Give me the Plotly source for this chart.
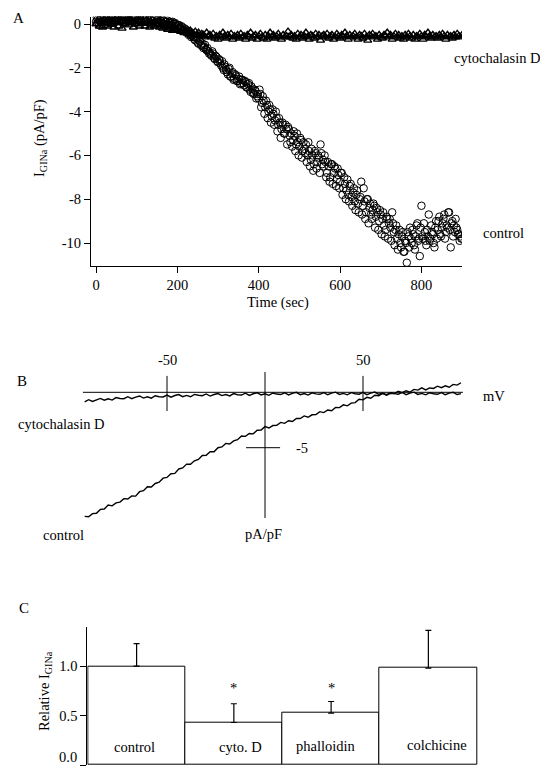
import plotly.graph_objects as go

# ---------------- DATA ----------------
# Panel A: I_GINa (pA/pF) vs time (sec)
time_sec = list(range(0, 901, 4))        # first sweep set
time_sec_b = list(range(2, 900, 4))      # interleaved samples (control only)
control_A = [
    0.1, 0.2, -0.05, 0.25, 0.15, 0.3, 0.0, 0.2, 0.35, 0.1,
    0.25, 0.05, 0.3, 0.4, 0.15, 0.2, 0.35, 0.1, 0.3, 0.2,
    0.4, 0.15, 0.25, 0.3, 0.05, 0.35, 0.2, 0.4, 0.1, 0.25,
    0.3, 0.1, 0.2, 0.25, 0.0, 0.15, 0.3, 0.1, 0.2, 0.05,
    0.15, 0.2, 0.0, 0.1, 0.15, -0.05, 0.05, 0.1, -0.1, 0.0,
    -0.1, -0.05, -0.2, -0.15, -0.3, -0.25, -0.35, -0.5, -0.4, -0.55,
    -0.6, -0.75, -0.65, -0.9, -0.8, -1.0, -1.1, -0.95, -1.2, -1.25,
    -1.3, -1.45, -1.35, -1.6, -1.5, -1.75, -1.65, -1.9, -2.0, -1.85,
    -2.1, -2.3, -2.0, -2.4, -2.2, -2.5, -2.35, -2.6, -2.4, -2.7,
    -2.55, -2.8, -2.65, -2.9, -2.7, -3.1, -2.95, -3.2, -3.05, -3.3,
    -3.4, -3.2, -3.6, -3.5, -3.8, -3.7, -4.0, -3.9, -4.2, -4.1,
    -4.4, -4.3, -4.6, -4.5, -4.8, -4.6, -5.0, -4.8, -4.7, -5.1,
    -5.0, -5.3, -5.1, -5.5, -5.4, -5.6, -5.3, -5.8, -5.7, -5.5,
    -6.0, -5.8, -6.2, -6.0, -6.4, -5.9, -6.3, -6.1, -5.5, -6.4,
    -6.5, -6.3, -6.8, -6.5, -7.0, -6.4, -6.8, -6.6, -7.1, -6.9,
    -7.2, -6.8, -7.5, -7.3, -7.6, -7.8, -7.4, -7.9, -7.7, -8.1,
    -7.8, -8.2, -8.0, -7.2, -8.3, -8.1, -8.6, -8.0, -8.4, -8.7,
    -8.5, -8.3, -8.8, -8.6, -9.0, -8.7, -8.9, -9.2, -9.4, -8.9,
    -9.1, -9.3, -8.6, -9.5, -9.4, -9.8, -9.6, -10.0, -9.7, -10.4,
    -9.9, -10.9, -9.7, -9.3, -10.0, -9.6, -10.3, -9.2, -9.9, -10.6,
    -8.3, -9.8, -9.5, -10.1, -9.7, -9.9, -9.2, -9.6, -10.2, -9.0,
    -9.4, -8.8, -9.7, -9.1, -8.7, -9.5, -9.3, -8.6, -10.2, -9.0,
    -9.2, -8.9, -9.4, -9.6, -9.7, -9.8,
]
control_A_b = [
    0.3, 0.05, 0.2, 0.1, 0.35, 0.15, 0.25, 0.05, 0.2, 0.3,
    0.1, 0.35, 0.2, 0.25, 0.4, 0.1, 0.25, 0.3, 0.15, 0.35,
    0.2, 0.3, 0.1, 0.35, 0.25, 0.15, 0.3, 0.2, 0.35, 0.1,
    0.2, 0.3, 0.05, 0.2, 0.15, 0.25, 0.05, 0.2, 0.1, 0.15,
    0.05, 0.15, 0.1, -0.05, 0.05, 0.1, -0.05, 0.0, 0.05, -0.1,
    -0.05, -0.15, -0.1, -0.25, -0.2, -0.4, -0.3, -0.45, -0.6, -0.5,
    -0.7, -0.6, -0.85, -0.75, -0.95, -0.9, -1.05, -1.15, -1.1, -1.35,
    -1.4, -1.25, -1.55, -1.45, -1.7, -1.6, -1.8, -1.7, -2.1, -1.95,
    -2.2, -2.05, -2.4, -2.25, -2.55, -2.3, -2.6, -2.5, -2.75, -2.55,
    -2.7, -2.6, -2.9, -2.75, -3.0, -2.85, -3.15, -3.0, -3.4, -3.2,
    -3.0, -3.8, -3.3, -4.1, -3.5, -4.3, -3.7, -4.5, -3.9, -4.6,
    -4.0, -4.9, -4.3, -5.2, -4.5, -5.0, -4.6, -5.5, -4.8, -5.4,
    -5.6, -4.9, -5.8, -5.0, -6.0, -5.2, -6.1, -5.4, -5.9, -6.3,
    -5.4, -6.5, -5.7, -6.7, -5.8, -6.6, -6.0, -6.8, -5.9, -6.2,
    -6.0, -7.0, -6.3, -7.2, -6.4, -7.3, -6.5, -7.4, -6.6, -7.5,
    -6.8, -7.8, -7.0, -8.0, -7.1, -8.1, -7.3, -8.3, -7.5, -8.5,
    -7.6, -8.6, -7.9, -8.7, -7.5, -8.9, -8.0, -9.1, -8.2, -8.9,
    -8.2, -9.3, -8.4, -9.4, -8.5, -9.6, -8.6, -9.7, -8.8, -9.8,
    -8.9, -9.9, -9.1, -10.1, -9.2, -10.3, -9.4, -10.2, -9.5, -10.4,
    -10.0, -9.5, -10.2, -9.8, -9.4, -10.1, -9.7, -9.1, -9.8, -9.3,
    -9.7, -9.1, -9.9, -9.4, -8.7, -9.8, -9.5, -10.0, -9.3, -9.8,
    -9.0, -9.6, -9.3, -8.9, -9.8, -9.2, -8.6, -9.4, -9.1, -9.7,
    -9.5, -9.3, -9.6, -9.9, -9.8,
]
cytoD_A = [
    0.0, 0.15, -0.1, 0.1, -0.15, 0.2, 0.05, -0.1, 0.15, 0.0,
    0.1, -0.15, 0.2, 0.05, -0.1, 0.1, -0.2, 0.15, 0.0, 0.1,
    -0.05, 0.2, 0.05, -0.15, 0.1, 0.0, 0.15, -0.1, 0.05, 0.1,
    -0.1, 0.05, 0.1, -0.15, 0.0, 0.05, -0.1, 0.0, -0.05, -0.15,
    -0.05, -0.2, -0.1, -0.15, -0.25, -0.1, -0.2, -0.3, -0.15, -0.25,
    -0.3, -0.2, -0.35, -0.25, -0.4, -0.3, -0.35, -0.45, -0.3, -0.4,
    -0.45, -0.35, -0.5, -0.4, -0.55, -0.45, -0.5, -0.6, -0.4, -0.55,
    -0.5, -0.6, -0.45, -0.65, -0.55, -0.7, -0.5, -0.6, -0.4, -0.55,
    -0.65, -0.5, -0.6, -0.45, -0.7, -0.55, -0.6, -0.5, -0.65, -0.45,
    -0.6, -0.55, -0.7, -0.5, -0.6, -0.4, -0.65, -0.55, -0.5, -0.7,
    -0.55, -0.45, -0.6, -0.65, -0.5, -0.7, -0.55, -0.4, -0.6, -0.5,
    -0.65, -0.55, -0.45, -0.6, -0.7, -0.5, -0.6, -0.55, -0.35, -0.6,
    -0.5, -0.65, -0.55, -0.7, -0.45, -0.6, -0.5, -0.65, -0.55, -0.4,
    -0.6, -0.7, -0.5, -0.55, -0.65, -0.45, -0.6, -0.5, -0.75, -0.55,
    -0.5, -0.6, -0.45, -0.65, -0.55, -0.5, -0.7, -0.6, -0.45, -0.55,
    -0.65, -0.5, -0.6, -0.4, -0.55, -0.7, -0.5, -0.6, -0.55, -0.45,
    -0.6, -0.7, -0.5, -0.55, -0.65, -0.45, -0.6, -0.75, -0.5, -0.55,
    -0.45, -0.6, -0.55, -0.7, -0.5, -0.6, -0.65, -0.5, -0.55, -0.4,
    -0.6, -0.5, -0.7, -0.55, -0.45, -0.6, -0.5, -0.65, -0.55, -0.7,
    -0.5, -0.6, -0.45, -0.55, -0.65, -0.5, -0.7, -0.55, -0.6, -0.45,
    -0.55, -0.7, -0.5, -0.6, -0.4, -0.55, -0.65, -0.5, -0.6, -0.55,
    -0.65, -0.5, -0.6, -0.45, -0.55, -0.7, -0.5, -0.6, -0.55, -0.65,
    -0.5, -0.6, -0.45, -0.55, -0.6, -0.5,
]
A_xticks = [0, 200, 400, 600, 800]
A_yticks = [0, -2, -4, -6, -8, -10]

# Panel B: I-V relation (pA/pF vs mV), every 2 mV
voltage_mV = list(range(-92, 101, 2))
control_B = [
    -11.2, -11.23, -10.95, -10.92, -10.57, -10.53, -10.18, -10.25, -9.98, -9.91,
    -9.6, -9.63, -9.35, -9.37, -8.97, -8.88, -8.53, -8.55, -8.23, -8.11,
    -7.75, -7.68, -7.35, -7.32, -6.92, -6.83, -6.48, -6.5, -6.18, -6.06,
    -5.7, -5.68, -5.37, -5.37, -5.0, -4.93, -4.61, -4.66, -4.38, -4.28,
    -3.95, -3.98, -3.72, -3.75, -3.42, -3.4, -3.1, -3.22, -3.0, -2.98,
    -2.72, -2.8, -2.57, -2.64, -2.35, -2.37, -2.13, -2.25, -2.03, -2.01,
    -1.75, -1.83, -1.6, -1.67, -1.37, -1.38, -1.13, -1.22, -0.98, -0.93,
    -0.63, -0.68, -0.45, -0.54, -0.27, -0.31, -0.1, -0.26, -0.09, -0.12,
    0.09, -0.04, 0.14, 0.02, 0.26, 0.2, 0.4, 0.22, 0.39, 0.35,
    0.55, 0.42, 0.59, 0.46, 0.71, 0.65, 0.86,
]
cytoD_B = [
    -0.86, -0.67, -0.83, -0.66, -0.55, -0.71, -0.58, -0.70, -0.48, -0.56,
    -0.58, -0.40, -0.58, -0.43, -0.33, -0.52, -0.40, -0.53, -0.31, -0.40,
    -0.42, -0.25, -0.44, -0.29, -0.20, -0.39, -0.28, -0.40, -0.19, -0.27,
    -0.31, -0.15, -0.34, -0.20, -0.11, -0.30, -0.20, -0.33, -0.12, -0.22,
    -0.25, -0.08, -0.28, -0.13, -0.04, -0.24, -0.13, -0.27, -0.06, -0.16,
    -0.20, -0.04, -0.24, -0.09, 0.00, -0.21, -0.11, -0.25, -0.05, -0.14,
    -0.18, -0.02, -0.22, -0.08, 0.01, -0.19, -0.10, -0.23, -0.03, -0.13,
    -0.17, 0.00, -0.21, -0.07, 0.02, -0.18, -0.09, -0.22, -0.03, -0.12,
    -0.17, -0.01, -0.21, -0.07, 0.01, -0.19, -0.10, -0.23, -0.04, -0.13,
    -0.18, -0.02, -0.22, -0.08, 0.00, -0.20, -0.12,
]
B_xticks = [-50, 0, 50]
B_ytick = -5

# Panel C: relative I_GINa
C_categories = ["control", "cyto. D", "phalloidin", "colchicine"]
C_values = [1.0, 0.43, 0.525, 0.98]
C_err_up = [0.228, 0.19, 0.118, 0.382]
C_signif = [False, True, True, False]
C_yticks = [0.0, 0.5, 1.0]

# ---------------- LAYOUT HELPERS ----------------
W, H = 540, 767
FONT = "Liberation Serif, Times New Roman, DejaVu Serif, serif"
FS = 14.5


def fx(p):
    return p / W


def fy(p):
    return 1 - p / H


def fmt(v):
    return str(v).replace("\u2212", "-")


fig = go.Figure()

# Panel A traces
fig.add_trace(go.Scatter(
    x=time_sec, y=cytoD_A, mode="markers", xaxis="x", yaxis="y",
    marker=dict(symbol="triangle-up-open", size=7, color="black", line=dict(width=1.4)),
    showlegend=False))
fig.add_trace(go.Scatter(
    x=time_sec + time_sec_b, y=control_A + control_A_b, mode="markers", xaxis="x", yaxis="y",
    marker=dict(symbol="circle-open", size=7.5, color="black", line=dict(width=1)),
    showlegend=False))

# Panel B traces
fig.add_trace(go.Scatter(x=voltage_mV, y=cytoD_B, mode="lines", xaxis="x2", yaxis="y2",
                         line=dict(color="black", width=1.4), showlegend=False))
fig.add_trace(go.Scatter(x=voltage_mV, y=control_B, mode="lines", xaxis="x2", yaxis="y2",
                         line=dict(color="black", width=1.4), showlegend=False))

# Panel C bars
fig.add_trace(go.Bar(
    x=C_categories, y=C_values, xaxis="x3", yaxis="y3", width=1,
    marker=dict(color="white", line=dict(color="black", width=1)),
    error_y=dict(type="data", symmetric=False, array=C_err_up,
                 arrayminus=[0] * len(C_values), color="black", thickness=1.2, width=3),
    showlegend=False))

axis_common = dict(showgrid=False, zeroline=False, showline=True, linecolor="black",
                   linewidth=1, ticks="outside", ticklen=6, tickwidth=1, tickcolor="black",
                   tickfont=dict(family=FONT, size=FS, color="black"))

# Panel A geometry (pixel-derived)
A_x0, A_x1 = 91, 462
A_top, A_bot = 16.5, 266
A_tpx = 0.4068  # px per second
A_t0px = 96
A_vpx = 21.9    # px per unit
A_v0px = 24

# Panel B geometry
B_x0, B_x1 = 79, 467
B_top, B_bot = 360, 525
B_mvpx = 1.96
B_0x = 265
B_upx = 11.08
B_0y = 392.3

# Panel C geometry
C_x0 = 87.3
C_bpx = 97.25
C_top, C_bot = 626.7, 765

# tick labels of panel C (the lowest one sits at the page edge, drawn as annotation)
C_ticktext = ["" if v == 0 else "%.1f" % v for v in C_yticks]

fig.update_layout(
    width=W, height=H, margin=dict(l=0, r=0, t=0, b=0),
    paper_bgcolor="white", plot_bgcolor="white",
    font=dict(family=FONT, size=FS, color="black"),
    bargap=0,
    xaxis=dict(axis_common, domain=[fx(A_x0), fx(A_x1)], anchor="y",
               range=[(A_x0 - A_t0px) / A_tpx, (A_x1 - A_t0px) / A_tpx],
               tickvals=A_xticks, ticktext=[fmt(v) for v in A_xticks]),
    yaxis=dict(axis_common, domain=[fy(A_bot), fy(A_top)], anchor="x",
               range=[(A_v0px - A_bot) / A_vpx, (A_v0px - A_top) / A_vpx],
               tickvals=A_yticks, ticktext=[fmt(v) for v in A_yticks]),
    xaxis2=dict(visible=False, domain=[fx(B_x0), fx(B_x1)], anchor="y2",
                range=[(B_x0 - B_0x) / B_mvpx, (B_x1 - B_0x) / B_mvpx]),
    yaxis2=dict(visible=False, domain=[fy(B_bot), fy(B_top)], anchor="x2",
                range=[(B_0y - B_bot) / B_upx, (B_0y - B_top) / B_upx]),
    xaxis3=dict(visible=False, domain=[fx(C_x0), fx(C_x0 + 4.057 * C_bpx)], anchor="y3",
                range=[-0.507, 3.55]),
    yaxis3=dict(axis_common, domain=[fy(C_bot), fy(C_top)], anchor="x3",
                range=[0, 1.4], tickvals=C_yticks, ticktext=C_ticktext),
)

# Panel B axes (crosshair) as shapes in data coords
line_k = dict(color="black", width=1)
shapes = [
    dict(type="line", xref="x2", yref="y2", x0=-92.9, x1=101, y0=0, y1=0, line=line_k),
    dict(type="line", xref="x2", yref="y2", x0=0, x1=0, y0=1.83, y1=-11.35, line=line_k),
    dict(type="line", xref="x2", yref="y2", x0=-9.7, x1=7.7, y0=B_ytick, y1=B_ytick, line=line_k),
]
for v in B_xticks:
    if v != 0:
        shapes.append(dict(type="line", xref="x2", yref="y2", x0=v, x1=v, y0=1.48, y1=-1.69,
                           line=line_k))
fig.update_layout(shapes=shapes)

ann = []


def txt(text, x, y, xanchor="center", size=FS, xref="paper", yref="paper", angle=0,
        yanchor="middle"):
    ann.append(dict(text=text, x=x, y=y, xref=xref, yref=yref, xanchor=xanchor,
                    yanchor=yanchor, showarrow=False, textangle=angle,
                    font=dict(family=FONT, size=size, color="black")))


# Panel A labels
txt("A", fx(11), fy(18), xanchor="left", size=15)
txt("I<sub>GINa</sub> (pA/pF)", fx(40), fy(138), angle=-90)
txt("Time (sec)", fx(278), fy(303))
txt("cytochalasin D", fx(452), fy(58), xanchor="left")
txt("control", fx(481), fy(233), xanchor="left")

# Panel B labels
txt("B", fx(15), fy(381), xanchor="left", size=15)
for v in B_xticks:
    yy = (B_0y - (354 if v == 0 else 360)) / B_upx
    txt(fmt(v), v, yy, xref="x2", yref="y2")
txt(fmt(B_ytick), 18.7, B_ytick, xref="x2", yref="y2")
txt("mV", fx(481), fy(395.5), xanchor="left")
txt("cytochalasin D", fx(15.5), fy(424), xanchor="left")
txt("control", fx(41), fy(534.5), xanchor="left")
txt("pA/pF", fx(263), fy(534))

# Panel C labels
txt("C", fx(17), fy(608), xanchor="left", size=15)
txt("Relative I<sub>GINa</sub>", fx(45), fy(691), angle=-90)
txt("%.1f" % C_yticks[0], fx(79), 0, xanchor="right", yanchor="bottom")
label_y = [0.185, 0.182, 0.192, 0.205]
label_dx = [-2.5, 7, -5, 9]
for i, c in enumerate(C_categories):
    ann.append(dict(text=c, x=c, y=label_y[i], xref="x3", yref="y3", xshift=label_dx[i],
                    showarrow=False, font=dict(family=FONT, size=FS, color="black")))
    if C_signif[i]:
        ann.append(dict(text="*", x=c, y=0.78, xref="x3", yref="y3",
                        showarrow=False, font=dict(family=FONT, size=FS, color="black")))

fig.update_layout(annotations=ann)

fig.write_html("out.html")
